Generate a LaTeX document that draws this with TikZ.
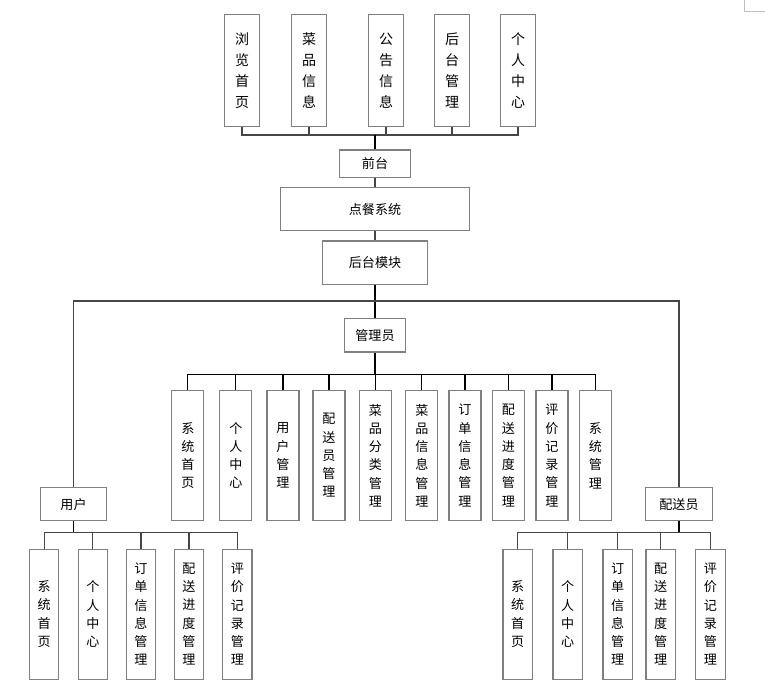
\documentclass[tikz,border=0pt]{standalone}
\usepackage{fontspec}
\newfontfamily\cjk{Noto Sans CJK SC}
\begin{document}
\begin{tikzpicture}[x=0.75pt,y=-0.75pt,
  box/.style={draw=gray,line width=0.9pt,fill=white,inner sep=0pt,
    font=\cjk\fontsize{9.8}{12}\selectfont},
  topbox/.style={box,minimum width=26pt,minimum height=84pt,align=center,
    font=\cjk\fontsize{10.5}{15.7}\selectfont},
  subbox/.style={box,minimum width=24pt,minimum height=97.5pt,align=center,
    font=\cjk\fontsize{9.8}{13.7}\selectfont},
  leafbox/.style={subbox,minimum width=22pt},
  link/.style={draw=gray!55!black,line width=0.9pt},
  trunk/.style={draw=black,line width=1.1pt}]
  \useasboundingbox (0,0) rectangle (765,699);
  % page corner
  \draw[gray!50] (744.3,0) -- (744.3,11.3) -- (765,11.3);

  % front end
  \node[box,minimum width=53pt,minimum height=20.5pt] (qt) at (375,163.7) {前台};
  \node[box,minimum width=141.5pt,minimum height=32.3pt] (dc) at (375,209.2) {点餐系统};
  \node[box,minimum width=78.2pt,minimum height=32.5pt] (hb) at (375,262.7) {后台模块};
  \coordinate (topbus) at (375,135);
  \foreach \x/\txt [count=\i] in {242/{浏\\览\\首\\页},309/{菜\\品\\信\\息},
      386/{公\\告\\信\\息},452/{后\\台\\管\\理},518/{个\\人\\中\\心}}{
    \node[topbox] (t\i) at (\x,70.7) {\txt};
    \draw[link] (t\i.south) |- (topbus);
  }
  \draw[trunk] (topbus) -- (qt.north);
  \draw[link] (qt.south) -- (dc.north);
  \draw[link] (dc.south) -- (hb.north);

  % roles
  \node[box,minimum width=45.3pt,minimum height=25.3pt] (gly) at (375,335.2) {管理员};
  \node[box,minimum width=49.8pt,minimum height=24.8pt] (yh) at (73.5,504.2) {用户};
  \node[box,minimum width=50.2pt,minimum height=24.8pt] (psy) at (679,504.2) {配送员};
  \coordinate (midbus) at (375,301);
  \draw[trunk] (hb.south) -- (gly.north);
  \draw[link] (yh.north) |- (midbus) -| (psy.north);

  % admin
  \coordinate (gbus) at (375,374.3);
  \foreach \x/\txt [count=\i] in {187.8/{系\\统\\首\\页},235.8/{个\\人\\中\\心},
      283/{用\\户\\管\\理},329/{配\\送\\员\\管\\理},375.5/{菜\\品\\分\\类\\管\\理},
      421.8/{菜\\品\\信\\息\\管\\理},465/{订\\单\\信\\息\\管\\理},
      508.5/{配\\送\\进\\度\\管\\理},552/{评\\价\\记\\录\\管\\理},595.5/{系\\统\\管\\理}}{
    \node[subbox] (g\i) at (\x,455.5) {\txt};
    \draw[trunk,line width=0.9pt] (g\i.north) |- (gbus);
  }
  \draw[trunk] (gly.south) -- (gbus);

  % user and courier
  \coordinate (ubus) at (73.5,532.3);
  \coordinate (pbus) at (679,532.3);
  \foreach \x/\y/\txt [count=\i] in {44.2/517.7/{系\\统\\首\\页},92.8/567.7/{个\\人\\中\\心},
      141/617.7/{订\\单\\信\\息\\管\\理},189/660.7/{配\\送\\进\\度\\管\\理},
      237.3/710.5/{评\\价\\记\\录\\管\\理}}{
    \node[leafbox] (u\i) at (\x,614.2) {\txt};
    \node[leafbox] (p\i) at (\y,614.2) {\txt};
    \draw[link] (u\i.north) |- (ubus);
    \draw[link] (p\i.north) |- (pbus);
  }
  \draw[trunk] (yh.south) -- (ubus);
  \draw[trunk] (psy.south) -- (pbus);
\end{tikzpicture}
\end{document}
